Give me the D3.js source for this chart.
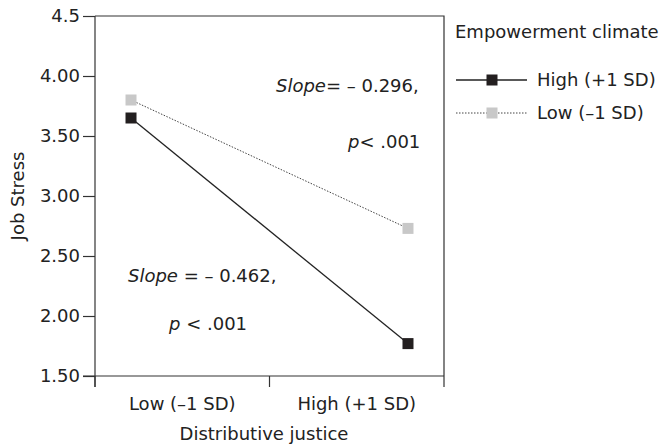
<!doctype html>
<html lang="en">
<head>
    <meta charset="UTF-8">
    <title>Job Stress by Distributive justice</title>
    <script type="text/javascript" src="https://cdn.jsdelivr.net/npm/d3@7/dist/d3.min.js"></script>
    <style type="text/css">
        body { margin: 0; background: #fff; }
        svg { display: block; font-family: "DejaVu Sans", sans-serif; }
        .axis path, .axis line { stroke: #333; stroke-width: 1.2px; }
        .axis text { font-size: 18px; fill: #222; font-family: "DejaVu Sans", sans-serif; }
    </style>
</head>
<body>
<script type="text/javascript">

    var w = 667;
    var h = 448;

    // data
    var categories = ["Low (\u20131 SD)", "High (+1 SD)"];
    var highEmpowerment = [3.65, 1.77];
    var lowEmpowerment = [3.80, 2.73];
    var yTicks = [1.5, 2, 2.5, 3, 3.5, 4, 4.5];
    var yTickLabels = ["1.50", "2.00", "2.50", "3.00", "3.50", "4.00", "4.5"];
    var legendLabels = ["High (+1 SD)", "Low (\u20131 SD)"];

    var plotLeft = 95, plotRight = 444, plotTop = 16, plotBottom = 376;

    var yScale = d3.scaleLinear().domain([1.5, 4.5]).range([plotBottom, plotTop]);
    var xBand = d3.scaleBand().domain(categories).range([plotLeft, plotRight]).padding(0);
    var xPoint = d3.scalePoint().domain(categories).range([plotLeft, plotRight]).padding(0.13);

    var svg = d3.select("body")
        .append("svg")
        .attr("width", w)
        .attr("height", h);

    // y axis
    var yAxis = d3.axisLeft(yScale)
        .tickValues(yTicks)
        .tickFormat(function (d, i) { return yTickLabels[i]; })
        .tickSize(12)
        .tickSizeOuter(0)
        .tickPadding(3);
    var gy = svg.append("g")
        .attr("class", "axis")
        .attr("transform", "translate(" + plotLeft + ",0)")
        .call(yAxis);
    gy.select(".domain").remove();
    gy.append("line")
        .attr("x1", 0).attr("x2", 0)
        .attr("y1", plotTop).attr("y2", plotBottom + 11)
        .attr("stroke", "#333").attr("stroke-width", 1.2);

    // x axis (labels at band centres, ticks at band edges)
    var xAxis = d3.axisBottom(xBand).tickSize(0).tickSizeOuter(0).tickPadding(21);
    var gx = svg.append("g")
        .attr("class", "axis")
        .attr("transform", "translate(0," + plotBottom + ")")
        .call(xAxis);
    gx.select(".domain").remove();
    gx.append("line")
        .attr("x1", plotLeft - 12).attr("x2", plotRight)
        .attr("y1", 0).attr("y2", 0)
        .attr("stroke", "#333").attr("stroke-width", 1.2);
    var edges = d3.range(categories.length + 1).map(function (i) {
        return xBand.range()[0] + i * xBand.step();
    });
    gx.selectAll(".edge")
        .data(edges)
        .enter()
        .append("line")
        .attr("class", "edge")
        .attr("x1", function (d) { return d; })
        .attr("x2", function (d) { return d; })
        .attr("y1", 0).attr("y2", 11)
        .attr("stroke", "#333").attr("stroke-width", 1.2);

    // box top and right
    svg.append("path")
        .attr("d", "M" + plotLeft + "," + yScale(4.5) + "H" + plotRight + "V" + plotBottom)
        .attr("fill", "none")
        .attr("stroke", "#333")
        .attr("stroke-width", 1.2);

    // axis titles
    svg.append("text")
        .attr("transform", "translate(24," + (plotTop + plotBottom) / 2 + ") rotate(-90)")
        .attr("text-anchor", "middle")
        .attr("font-size", "18px")
        .attr("fill", "#222")
        .text("Job Stress");
    svg.append("text")
        .attr("x", 264).attr("y", 440)
        .attr("text-anchor", "middle")
        .attr("font-size", "18px")
        .attr("fill", "#222")
        .text("Distributive justice");

    // lines
    var line = d3.line()
        .x(function (d, i) { return xPoint(categories[i]); })
        .y(function (d) { return yScale(d); });

    svg.append("path")
        .datum(lowEmpowerment)
        .attr("d", line)
        .attr("fill", "none")
        .attr("stroke", "#444")
        .attr("stroke-width", 1)
        .attr("stroke-dasharray", "1.5,1.5");
    svg.append("path")
        .datum(highEmpowerment)
        .attr("d", line)
        .attr("fill", "none")
        .attr("stroke", "#222")
        .attr("stroke-width", 1.3);

    var sq = 11;
    function squares(data, color) {
        svg.append("g").selectAll("rect")
            .data(data)
            .enter()
            .append("rect")
            .attr("x", function (d, i) { return xPoint(categories[i]) - sq / 2; })
            .attr("y", function (d) { return yScale(d) - sq / 2; })
            .attr("width", sq)
            .attr("height", sq)
            .attr("fill", color);
    }
    squares(lowEmpowerment, "#c8c8c8");
    squares(highEmpowerment, "#231f20");

    // slope annotations
    function note(x, y, slope) {
        var t = svg.append("text")
            .attr("x", x).attr("y", y)
            .attr("font-size", "18px")
            .attr("fill", "#222");
        t.append("tspan").attr("font-style", "italic").text("Slope");
        t.append("tspan").text(slope);
    }
    note(276, 92, "= \u2013 0.296,");
    note(128, 282, " = \u2013 0.462,");

    function pnote(x, y, rest) {
        var t = svg.append("text")
            .attr("x", x).attr("y", y)
            .attr("font-size", "18px")
            .attr("fill", "#222");
        t.append("tspan").attr("font-style", "italic").text("p");
        t.append("tspan").text(rest);
    }
    pnote(348, 148, "< .001");
    pnote(169, 330, " < .001");

    // legend
    svg.append("text")
        .attr("x", 455).attr("y", 38)
        .attr("font-size", "18px")
        .attr("fill", "#222")
        .text("Empowerment climate");

    var legendRows = [
        { label: legendLabels[0], color: "#231f20", dash: null, y: 80 },
        { label: legendLabels[1], color: "#c8c8c8", dash: "1.5,1.5", y: 113 }
    ];
    var lg = svg.append("g").selectAll("g")
        .data(legendRows)
        .enter()
        .append("g")
        .attr("transform", function (d) { return "translate(0," + d.y + ")"; });
    lg.append("line")
        .attr("x1", 456).attr("x2", 527)
        .attr("y1", 0).attr("y2", 0)
        .attr("stroke", function (d) { return d.dash ? "#444" : "#222"; })
        .attr("stroke-width", function (d) { return d.dash ? 1 : 1.3; })
        .attr("stroke-dasharray", function (d) { return d.dash; });
    lg.append("rect")
        .attr("x", 492 - sq / 2).attr("y", -sq / 2)
        .attr("width", sq).attr("height", sq)
        .attr("fill", function (d) { return d.color; });
    lg.append("text")
        .attr("x", 537).attr("y", 0)
        .attr("dy", "0.35em")
        .attr("font-size", "18px")
        .attr("fill", "#222")
        .text(function (d) { return d.label; });

</script>
</body>
</html>
